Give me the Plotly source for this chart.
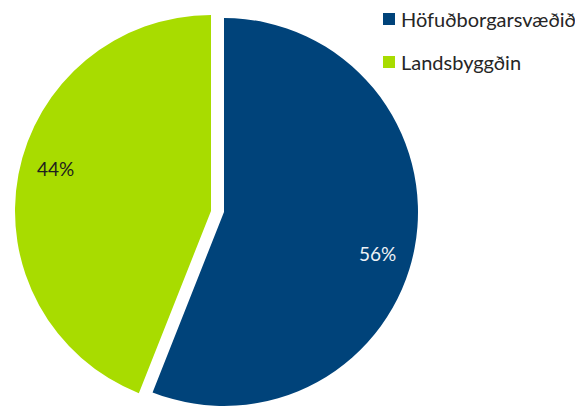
import math
import plotly.graph_objects as go

labels = ["Höfuðborgarsvæðið", "Landsbyggðin"]
values = [56, 44]
colors = ["#00437A", "#A8DC00"]
text_colors = ["#EEF2F6", "#1E1E1E"]

W, H = 583, 407
OFF = 8  # page body margin
FONT = "Lato"

def px(x):
    return (x - OFF) / W

def py(y):
    return 1 - (y - OFF) / H

def dom(cx, cy, r):
    return dict(x=[max(0, px(cx - r)), min(1, px(cx + r))],
                y=[max(0, py(cy + r)), min(1, py(cy - r))])

# slice geometry (screen px): centre x, centre y, radius
geo = [(224, 212, 194), (211, 211, 196)]

fig = go.Figure()
total = sum(values)
start = 0.0
annotations = []
for i in [1, 0]:
    cols = ["rgba(0,0,0,0)"] * len(values)
    cols[i] = colors[i]
    cx, cy, r = geo[i]
    fig.add_trace(go.Pie(
        labels=labels, values=values, sort=False, direction="clockwise", rotation=0,
        marker=dict(colors=cols, line=dict(width=0)),
        textinfo="none", domain=dom(cx, cy, r), showlegend=False,
        hoverinfo="label+percent"))

# percentage labels placed along each slice's mid-angle
acc = 0.0
for i, v in enumerate(values):
    mid = (acc + v / 2) / total * 360 + 4.5
    acc += v
    cx, cy, r = geo[i]
    rr = 0.82 * r
    x = cx + rr * math.sin(math.radians(mid))
    y = cy - rr * math.cos(math.radians(mid))
    annotations.append(dict(xref="paper", yref="paper", x=px(x), y=py(y),
                            xanchor="center", yanchor="middle",
                            text=f"{round(v / total * 100)}%", showarrow=False,
                            font=dict(family=FONT, size=19, color=text_colors[i])))

# legend drawn as squares + text
shapes = []
for i, (lab, col) in enumerate(zip(labels, colors)):
    yc = 19 + i * 43
    shapes.append(dict(type="rect", xref="paper", yref="paper",
                       x0=px(383), x1=px(395), y0=py(yc + 6), y1=py(yc - 6),
                       fillcolor=col, line=dict(width=0)))
    annotations.append(dict(xref="paper", yref="paper", x=px(399), y=py(yc),
                            xanchor="left", yanchor="middle", text=lab, showarrow=False,
                            font=dict(family=FONT, size=20, color="#262626")))

fig.update_layout(width=W, height=H, margin=dict(l=0, r=0, t=0, b=0),
                  paper_bgcolor="white", plot_bgcolor="white",
                  shapes=shapes, annotations=annotations, showlegend=False)
fig.write_html("out.html")
